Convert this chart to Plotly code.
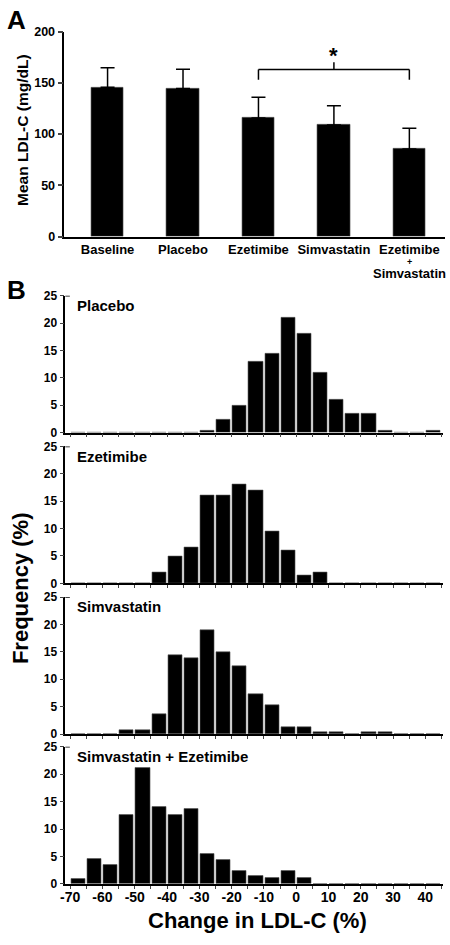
import plotly.graph_objects as go

# ---------------- Data ----------------
# Panel A: mean LDL-C (mg/dL) with upper SD
categories = ["Baseline", "Placebo", "Ezetimibe", "Simvastatin", "Ezetimibe + Simvastatin"]
mean_ldl = [145.6, 144.6, 115.8, 108.8, 85.4]
sd_ldl = [19.2, 18.6, 20.2, 18.9, 20.2]

# Panel B: frequency (%) of % change in LDL-C, bins of 5% starting at bin_starts
bin_starts = [-70, -65, -60, -55, -50, -45, -40, -35, -30, -25, -20, -15, -10, -5,
              0, 5, 10, 15, 20, 25, 30, 35, 40]
bin_width = 5
freq_placebo = [0, 0, 0, 0, 0, 0, 0, 0, 0.3, 2.3, 4.9, 13.0, 14.5, 21.0,
                18.0, 11.0, 6.0, 3.4, 3.4, 0.3, 0, 0, 0.3]
freq_ezetimibe = [0, 0, 0, 0, 0, 2.0, 5.0, 6.5, 16.0, 16.0, 18.0, 17.0, 9.5, 6.0,
                  1.5, 2.0, 0, 0, 0, 0, 0, 0, 0]
freq_simvastatin = [0, 0, 0, 0.8, 0.8, 3.7, 14.4, 13.9, 19.0, 15.0, 12.4, 7.3, 5.3, 1.3,
                    1.3, 0.3, 0.3, 0, 0.3, 0.3, 0, 0, 0]
freq_combo = [0.9, 4.5, 3.4, 12.6, 21.1, 14.0, 12.5, 13.6, 5.4, 4.4, 2.4, 1.4, 1.0, 2.4,
              1.0, 0, 0, 0, 0, 0, 0, 0, 0]
hist_names = ["Placebo", "Ezetimibe", "Simvastatin", "Simvastatin + Ezetimibe"]
hist_data = [freq_placebo, freq_ezetimibe, freq_simvastatin, freq_combo]

x_ticks_b = [-70, -60, -50, -40, -30, -20, -10, 0, 10, 20, 30, 40]
x_ticktext_b = ["-70", "-60", "-50", "-40", "-30", "-20", "-10", "0", "10", "20", "30", "40"]
y_ticks_a = [0, 50, 100, 150, 200]
y_ticks_b = [0, 5, 10, 15, 20, 25]

# ---------------- Layout helpers ----------------
W, H = 450, 945
FONT = "Liberation Sans, Arial, Helvetica, sans-serif"


def px_x(p):
    return p / W


def px_y(p):
    return 1 - p / H


def bfont(size):
    return dict(family=FONT, size=size, color="black", weight="bold")


fig = go.Figure()

# ---------------- Panel A ----------------
xa_pos = list(range(len(categories)))
fig.add_trace(go.Bar(
    x=xa_pos, y=mean_ldl, width=0.43,
    marker=dict(color="black", line=dict(color="#555", width=0.6)),
    error_y=dict(type="data", symmetric=False, array=sd_ldl,
                 arrayminus=[0] * len(sd_ldl), color="black",
                 thickness=1.5, width=7),
    xaxis="x", yaxis="y", showlegend=False,
))

tick_a = categories[:-1] + ["Ezetimibe"]
fig.update_layout(
    xaxis=dict(domain=[px_x(60), px_x(445)], range=[-0.573, 4.473],
               tickvals=xa_pos, ticktext=tick_a, ticks="", ticklen=0,
               showline=True, linecolor="black", linewidth=1.5,
               showgrid=False, zeroline=False, tickfont=bfont(13),
               anchor="y"),
    yaxis=dict(domain=[px_y(233), px_y(25)], range=[0, 200],
               tickvals=y_ticks_a, ticks="outside", ticklen=5, tickwidth=1.5,
               showline=True, linecolor="black", linewidth=1.5,
               showgrid=False, zeroline=False, tickfont=bfont(12.5),
               anchor="x"),
)

annotations = []
shapes = []
# combined label continuation
annotations.append(dict(text="+", x=4, y=px_y(259), xref="x", yref="paper",
                        showarrow=False, font=bfont(9), yanchor="middle"))
annotations.append(dict(text="Simvastatin", x=4, y=px_y(271), xref="x", yref="paper",
                        showarrow=False, font=bfont(13), yanchor="middle"))

# significance bracket between Ezetimibe and combination
br_y, br_drop, br_up = 163, 153, 170
for seg in [(2, br_y, 4, br_y), (2, br_y, 2, br_drop), (4, br_y, 4, br_drop), (3, br_y, 3, br_up)]:
    shapes.append(dict(type="line", xref="x", yref="y", x0=seg[0], y0=seg[1],
                       x1=seg[2], y1=seg[3], line=dict(color="black", width=1.5)))
annotations.append(dict(text="*", x=3, y=br_up, xref="x", yref="y", showarrow=False,
                        font=bfont(22), yanchor="bottom", yshift=-8))

# y title A
annotations.append(dict(text="Mean LDL-C (mg/dL)", x=px_x(17), y=px_y(125),
                        xref="paper", yref="paper", textangle=-90, showarrow=False,
                        font=bfont(15.5), xanchor="center", yanchor="middle"))
# panel letters
annotations.append(dict(text="A", x=px_x(0), y=px_y(13), xref="paper", yref="paper",
                        showarrow=False, font=bfont(26), xanchor="left", yanchor="middle"))
annotations.append(dict(text="B", x=px_x(0), y=px_y(287), xref="paper", yref="paper",
                        showarrow=False, font=bfont(26), xanchor="left", yanchor="middle"))

# ---------------- Panel B ----------------
bottoms = [432, 585, 738, 890]
panel_h = 139
centers = [s + bin_width / 2 for s in bin_starts]
for i, (name, vals) in enumerate(zip(hist_names, hist_data)):
    k = i + 2
    xa, ya = f"x{k}", f"y{k}"
    fig.add_trace(go.Bar(x=centers, y=vals, width=bin_width * 0.88,
                         marker=dict(color="black", line=dict(color="#555", width=0.6)),
                         xaxis=xa, yaxis=ya, showlegend=False))
    last = i == len(hist_names) - 1
    xdict = dict(domain=[px_x(61), px_x(443)], range=[-71.5, 45.5],
                 showline=True, linecolor="black", linewidth=1.5,
                 showgrid=False, zeroline=False, anchor=ya,
                 ticks="outside", ticklen=3, tickwidth=1.2)
    if last:
        xdict.update(tickvals=x_ticks_b, ticktext=x_ticktext_b, tickfont=bfont(14),
                     ticklabelstandoff=-3,
                     minor=dict(dtick=5, tick0=-70, ticks="outside", ticklen=3, tickwidth=1.2))
    else:
        xdict.update(tick0=-70, dtick=5, showticklabels=False)
    ydict = dict(domain=[px_y(bottoms[i]), px_y(bottoms[i] - panel_h)], range=[0, 25],
                 tickvals=y_ticks_b, ticks="outside", ticklen=4, tickwidth=1.2,
                 showline=True, linecolor="black", linewidth=1.5,
                 showgrid=False, zeroline=False, tickfont=bfont(12), anchor=xa)
    fig.update_layout({f"xaxis{k}": xdict, f"yaxis{k}": ydict})
    # inward top tick
    shapes.append(dict(type="line", xref=f"{xa} domain", yref=ya, x0=0, x1=0.012,
                       y0=25, y1=25, line=dict(color="black", width=1.5)))
    annotations.append(dict(text=name, x=px_x(71), y=px_y(bottoms[i] - panel_h + 10),
                            xref="paper", yref="paper", showarrow=False,
                            font=bfont(15), xanchor="left", yanchor="middle"))

annotations.append(dict(text="Frequency (%)", x=px_x(15), y=px_y(590), xref="paper",
                        yref="paper", textangle=-90, showarrow=False, font=bfont(22),
                        xanchor="center", yanchor="middle"))
annotations.append(dict(text="Change in LDL-C (%)", x=px_x(255), y=px_y(927), xref="paper",
                        yref="paper", showarrow=False, font=bfont(22),
                        xanchor="center", yanchor="middle"))

fig.update_layout(
    width=W, height=H, margin=dict(l=0, r=0, t=0, b=0),
    paper_bgcolor="white", plot_bgcolor="white",
    bargap=0, annotations=annotations, shapes=shapes,
    font=dict(family=FONT, color="black"),
)

fig.write_html("out.html", config={"displayModeBar": False},
               post_script="document.body.style.margin='0';document.body.style.padding='0';")
